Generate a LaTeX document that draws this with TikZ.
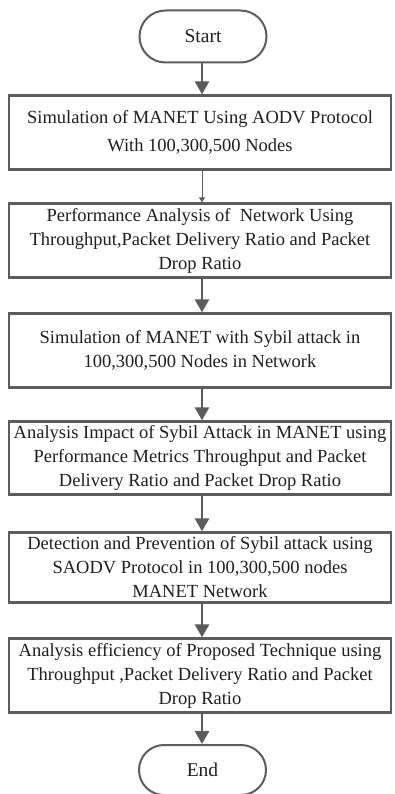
\documentclass[tikz,border=0pt]{standalone}
\usepackage{fontspec}
\setmainfont{Liberation Serif}
\usetikzlibrary{arrows.meta,shapes.misc}
\definecolor{edge}{gray}{0.36}
\definecolor{ink}{gray}{0.12}
\tikzset{
  x=1pt,y=-1pt,
  stepbox/.style={draw=edge,line width=2.3pt,rectangle,minimum width=382pt,
    inner sep=0pt,align=center,text=ink,font=\fontsize{18.5}{24}\selectfont},
  term/.style={draw=edge,line width=2pt,rounded rectangle,minimum width=127pt,
    inner sep=0pt,text=ink,font=\fontsize{19.5}{24}\selectfont},
  flow/.style={draw=edge,line width=2.6pt,-{Triangle[width=14pt,length=13pt]}},
  thinflow/.style={draw=edge,line width=0.9pt,-{Triangle[width=6pt,length=5pt]}}
}
\begin{document}
\begin{tikzpicture}
\useasboundingbox[fill=white] (0,0) rectangle (394,794);
\node[term,minimum height=52pt] (start) at (203,36.5) {Start};
\node[stepbox,minimum height=74pt] (b1) at (200,132.5)
  {Simulation of MANET Using AODV Protocol\\[4pt]With 100,300,500 Nodes};
\node[stepbox,minimum height=74pt] (b2) at (200,240.5)
  {Performance Analysis of\ \ Network Using\\Throughput,Packet Delivery Ratio and Packet\\Drop Ratio};
\node[stepbox,minimum height=74pt] (b3) at (200,350.5)
  {Simulation of MANET with Sybil attack in\\100,300,500 Nodes in Network};
\node[stepbox,minimum height=73pt] (b4) at (200,458)
  {Analysis Impact of Sybil Attack in MANET using\\Performance Metrics Throughput and Packet\\Delivery Ratio and Packet Drop Ratio};
\node[stepbox,minimum height=70pt] (b5) at (200,567.5)
  {Detection and Prevention of Sybil attack using\\SAODV Protocol in 100,300,500 nodes\\MANET Network};
\node[stepbox,minimum height=74pt] (b6) at (200,675.5)
  {Analysis efficiency of Proposed Technique using\\Throughput ,Packet Delivery Ratio and Packet\\Drop Ratio};
\node[term,minimum height=50pt] (end) at (202.5,770) {End};
\draw[flow] (start.south -| 202,0) -- (b1.north -| 202,0);
\draw[thinflow] (b1.south -| 202,0) -- (b2.north -| 202,0);
\draw[flow] (b2.south -| 202,0) -- (b3.north -| 202,0);
\draw[flow] (b3.south -| 202,0) -- (b4.north -| 202,0);
\draw[flow] (b4.south -| 202,0) -- (b5.north -| 202,0);
\draw[flow] (b5.south -| 202,0) -- (b6.north -| 202,0);
\draw[flow] (b6.south -| 202,0) -- (end.north -| 202,0);
\end{tikzpicture}
\end{document}
